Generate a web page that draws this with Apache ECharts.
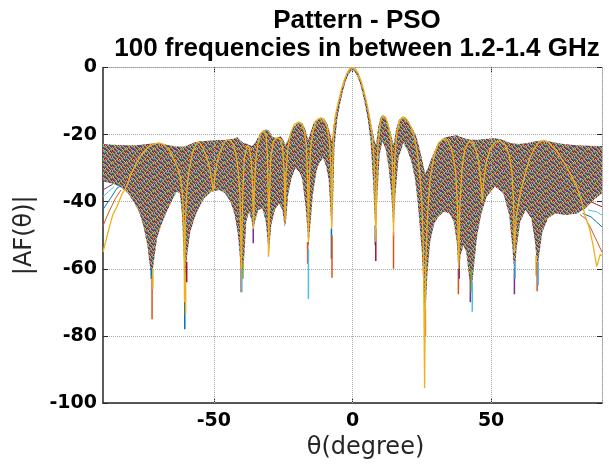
<!DOCTYPE html>
<html><head><meta charset="utf-8">
<script src="https://cdn.jsdelivr.net/npm/echarts@6/dist/echarts.min.js"></script>
<style>html,body{margin:0;padding:0;background:#fff}#c{width:609px;height:465px}</style>
</head><body><div id="c"></div>
<script>
// ---- data ----
const titleLines = ['Pattern - PSO', '100 frequencies in between 1.2-1.4 GHz'];
const xTicks = [-50, 0, 50];
const yTicks = [0, -20, -40, -60, -80, -100];
const matlabColors = ['#0072BD','#D95319','#EDB120','#7E2F8E','#77AC30','#4DBEEE','#A2142F'];

// upper envelope of the 100-curve band
const upperTheta = [-90,-86,-82,-78,-74,-70,-67,-64,-61,-59,-57,-55,-52,-49,-46,-43,-41.5,-40.3,-39.3,-37.8,-36.3,-35.2,-33.5,-32,-31,-30,-29,-27.5,-26,-25,-24.2,-23,-21.5,-20,-19,-18,-17,-16,-15,-14,-12.5,-11,-10,-9,-8,-7.4,-6.8,-6,-5,-4,-3,-2,-1,0,1,2,3,4,5,6,7,8,8.5,9.2,10,10.8,11.8,12.8,13.8,14.8,15.7,16.8,18,19,20.2,21.5,22.8,24,25,26.2,27.4,28.6,30.4,32.8,35.2,37.6,40,42.4,45,48,51,54,57,60,63,66,69,72,76,80,85,90];
const upperDb = [-22.8,-23,-23.2,-23.2,-22.8,-22.4,-23,-23.5,-23.6,-23,-22.3,-22,-21.8,-21.6,-21.6,-21.2,-20.8,-21.8,-22.5,-22.8,-23.5,-22.5,-20,-18.8,-18.4,-19,-20.5,-21,-20.5,-21.5,-23,-21,-18,-16.6,-16.2,-16.6,-18.5,-21.5,-19,-16.5,-15.3,-15,-15.5,-17,-20,-22,-17,-13.5,-9.8,-6.5,-3.8,-1.7,-0.4,0,-0.4,-1.7,-3.8,-6.5,-9.8,-13.8,-18,-22,-23,-18,-15,-14.2,-14.6,-16.5,-19.5,-23,-18.5,-15.5,-14.6,-14.8,-16,-18,-20,-23.5,-27,-31.5,-29.5,-26.8,-23.4,-21,-20.5,-20.2,-21,-21.5,-21.5,-21.3,-21,-21.5,-22.5,-22.8,-22.5,-22,-21.7,-22.2,-22.8,-23.1,-23.3,-23.4];

// lower envelope of the dense part of the band
const lowerTheta = [-90,-87,-84,-81,-79,-77,-75.5,-74,-73,-72.3,-71.5,-70.5,-69,-67,-65,-63.5,-62.3,-61.5,-60.8,-60.3,-59.5,-58.5,-57,-55.5,-53.5,-51,-48,-46,-44,-42.5,-41.3,-40.5,-39.8,-39,-38.3,-37.3,-36.3,-35.8,-35.2,-34,-32.5,-31.3,-30.5,-30,-29.3,-28,-26.5,-25.3,-24.5,-24,-23.2,-22,-20.6,-19.3,-18.2,-17,-16.3,-15.9,-15.3,-14.3,-13,-12,-10.6,-9.5,-8.6,-8,-7.5,-7,-6.5,-5.5,-4.5,-3.5,-2.5,-1.5,-0.5,0,0.5,1.5,2.5,3.5,4.5,5.5,6.5,7.5,8,8.4,9,9.8,10.8,12,13,14,14.8,15.5,16.6,18.4,20,21.2,22.5,23.5,25,26.2,27,28,29.5,31,33,35,36.5,37.6,38.3,39,40,41,42,43,44,45,46.5,48.4,51.4,54.4,56.5,57.7,58.4,59.2,60.5,62.5,64.5,65.8,66.7,67.5,68.5,70.5,73,77,81,84,87,90];
const lowerDb = [-34,-34.5,-35.5,-37.5,-40,-43,-47,-53,-60,-62,-57,-51,-47,-43,-39.5,-37,-37.5,-44,-58,-62,-55,-49,-45,-42,-39,-37,-36.5,-37.5,-40,-44,-50,-58,-62,-56,-46,-43,-46,-49,-46,-42.5,-42,-46,-53,-54,-47,-42.5,-40.5,-42.5,-47.5,-46,-38,-33,-30,-31,-33,-41,-48,-54,-48,-38,-31,-28.5,-27,-29.5,-33.5,-42,-50,-40,-24,-15.5,-11,-7.2,-4.2,-2.2,-0.9,-0.8,-0.9,-2.2,-4.2,-7.2,-11,-15.5,-22,-35,-45,-49,-38,-26,-22,-24.5,-29.5,-38,-49,-38,-27,-22.5,-25,-28,-33,-40,-55,-76,-62,-52,-46.5,-44.5,-43,-43.5,-46,-52,-62,-56,-53,-55,-62,-66,-58,-50,-43.5,-38.5,-35.5,-37.5,-44,-54,-62,-54,-46,-42.5,-45,-52,-60,-55,-49,-45,-43.5,-44,-43.5,-42,-39.5,-37.5];

// the yellow (last drawn) curve that outlines the band
const yellowTheta = [-90,-88,-86.5,-85,-83,-81.5,-80,-78,-76,-74,-72,-70,-68,-66,-64.5,-63,-62,-61.3,-60.8,-60.6,-60.3,-59.7,-59,-58,-57,-56,-55,-53.8,-52.5,-51.5,-50.6,-50.2,-49.7,-48.8,-47.5,-46,-45,-44,-43,-42,-41.2,-40.6,-40.1,-39.6,-39,-38,-37.2,-36.5,-36,-35.7,-35.4,-34.8,-34,-33,-32,-31.2,-30.7,-30.4,-30.2,-30,-29.5,-28.5,-27.2,-26,-25.2,-24.6,-24.3,-24,-23.3,-22.3,-21,-19.5,-18.3,-17.3,-16.6,-16.2,-15.9,-15.6,-15.1,-14.2,-13,-11.5,-10.2,-9.2,-8.3,-7.8,-7.5,-7.2,-6.8,-6.2,-5.2,-4,-3,-2,-1,0,1,2,3,4,5.2,6.2,7,7.7,8.1,8.4,8.7,9.2,10,10.9,12,13,13.8,14.4,14.8,15.2,15.9,17,18.3,19.6,21,22.2,23.3,24.2,25,25.6,26,26.4,27,28,29.5,31,32.8,34.5,36,37.2,37.9,38.3,38.7,39.5,40.5,42,43.3,44.5,45.5,46.3,46.8,47.3,48.3,49.8,51.5,53.2,55,56.5,57.5,58.1,58.4,59,60.4,62.2,64,65.5,67,68.9,70.5,72,73.7,75.5,77.3,79,80.9,82.5,84,85.5,86.8,87.6,88.1,88.6,89.3,90];
const yellowDb = [-55,-48.5,-44,-41.5,-37.5,-35.5,-32,-28.5,-25.8,-24,-22.9,-22.5,-23,-24.8,-27.3,-30,-33,-38,-48,-70,-46,-36,-31,-26.5,-23.8,-22.3,-22.5,-24.3,-27,-30,-34.5,-37,-33,-28,-24.5,-22,-21.5,-21.8,-23,-26,-31,-38,-60,-38,-27,-23.3,-24,-28,-36,-48,-36,-27,-22,-19.5,-18.8,-20,-26,-40,-55,-40,-27,-22,-21,-21.2,-24,-32,-46,-32,-24,-19.5,-17,-16.3,-16.8,-19,-24,-34,-52,-34,-24,-18.5,-15.8,-15,-15.6,-17.5,-22,-30,-48,-30,-19,-14.5,-10.5,-6.5,-3.8,-1.7,-0.4,0,-0.4,-1.7,-3.8,-6.5,-10.8,-15,-19.5,-26,-36,-52,-36,-23,-16.5,-14.3,-15,-17.5,-21,-28,-50,-28,-20,-15.8,-14.8,-15.5,-17.5,-20.5,-25,-31,-40,-55,-95.6,-60,-45,-33,-26,-22.5,-21.2,-22,-25,-31,-42,-60,-42,-30,-24.5,-22,-22.3,-24.5,-28,-34,-40,-34,-28,-24,-22.2,-21.9,-23,-26,-31,-40,-55,-45,-38,-32,-27,-24.3,-22.5,-21.7,-22.2,-23.5,-25,-27.3,-29.7,-32.5,-35.5,-39.5,-44.5,-48,-53,-57,-59.3,-58,-55.8,-56];

// loose curves fanning out at the two edges
const fanLeftRedTheta = [-90,-88,-85.5,-83.5];      const fanLeftRedDb = [-47.2,-43.3,-39,-36.5];
const fanLeftBlueTheta = [-90,-87.3,-85,-84];       const fanLeftBlueDb = [-42.3,-39,-36,-35.5];
const fanLeftCyanTheta = [-90,-88,-86];             const fanLeftCyanDb = [-38.5,-37,-35.5];
const fanLeftPurpleTheta = [-90,-88,-86.5];         const fanLeftPurpleDb = [-36.5,-35.5,-34.8];
const fanRightRedTheta = [82,84,86,88,90];          const fanRightRedDb = [-43.8,-45,-48,-51.5,-55];
const fanRightBlueTheta = [83,86,88,90];            const fanRightBlueDb = [-43.5,-44.5,-46,-47.5];
const fanRightCyanTheta = [85,88,90];               const fanRightCyanDb = [-42.5,-43,-44];
const fanRightDarkTheta = [86,88,90];               const fanRightDarkDb = [-40,-40.8,-41.5];

// deep null spikes below the dense band: theta, from dB, to dB, colour index
const spikeTheta = [-72.6,-72.3,-72.0,-60.5,-60.2,-59.8,-40.2,-39.9,-39.5,-35.8,-30.3,-16.2,-15.9,-7.6,-7.4,8.2,8.4,14.8,26.3,38.2,38.5,42.5,42.8,43.2,58.4,58.7,66.2,66.6,67.0];
const spikeFrom  = [-60,-62,-60,-60,-62,-58,-58,-60,-58,-48,-52,-52,-54,-48,-50,-47,-48,-49,-72,-60,-58,-62,-60,-64,-60,-58,-56,-58,-58];
const spikeTo    = [-63,-75,-66,-78,-73.5,-64,-67,-67,-63,-52.4,-56.4,-58.5,-69,-57,-62.7,-53,-57.7,-60,-80,-67.6,-63,-70,-67,-72.8,-67.6,-63,-62,-66.7,-65];
const spikeColor = [0,1,2,0,2,6,1,5,4,3,2,1,5,0,1,0,6,1,1,1,3,3,4,5,3,5,2,1,5];

// ---- chart ----
// fill texture for the dense band (style only): short multicoloured strokes
function makePattern() {
  const w = 14, h = 14;
  const c = document.createElement('canvas');
  c.width = w; c.height = h;
  const ctx = c.getContext('2d');
  for (let y = 0; y < h; y++) for (let x = 0; x < w; x++) {
    const k = (x + 2 * Math.floor(y / 2) + (y % 2) * 3 + Math.floor(x / 7) * 2) % 7;
    ctx.fillStyle = matlabColors[k];
    ctx.fillRect(x, y, 1, 1);
  }
  return c;
}
const pattern = makePattern();
const zip = (a, b) => a.map((v, i) => [v, b[i]]);

const chart = echarts.init(document.getElementById('c'), null, {renderer: 'canvas'});
const tickFont = {fontFamily: 'DejaVu Sans', fontWeight: 'bold', fontSize: 19, color: '#000'};
const gridLine = {color: '#a8a8a8', type: [1, 1], width: 1};

function lineSeries(t, d, colorIdx, w, z) {
  return {type: 'line', data: zip(t, d), showSymbol: false, silent: true, z: z || 4,
    lineStyle: {color: matlabColors[colorIdx], width: w || 1}, clip: true, animation: false};
}

chart.setOption({
  animation: false,
  title: {
    text: titleLines.join('\n'), left: 352, top: 2, textAlign: 'center',
    textStyle: {fontFamily: 'Liberation Sans', fontWeight: 'bold', fontSize: 26, lineHeight: 28, color: '#000'}
  },
  grid: {left: 103, right: 7, top: 67.5, bottom: 53, show: false},
  xAxis: [{
    type: 'value', min: -90, max: 90, interval: 10, position: 'bottom',
    axisLine: {show: true, onZero: false, lineStyle: {color: '#262626', width: 1.5}},
    axisTick: {show: true, inside: true, length: 5, customValues: xTicks, lineStyle: {color: '#262626'}},
    axisLabel: {customValues: xTicks, margin: 9, ...tickFont},
    splitLine: {show: false},
    name: 'θ(degree)', nameLocation: 'middle', nameGap: 33,
    nameTextStyle: {fontFamily: 'DejaVu Sans', fontSize: 24, color: '#262626', padding: [0, 0, 0, 26]}
  }, {
    type: 'value', min: -90, max: 90, interval: 10, position: 'top',
    axisLine: {show: true, onZero: false, lineStyle: {color: '#9a9a9a', width: 1, type: [1, 1]}},
    axisTick: {show: true, inside: true, length: 5, customValues: xTicks, lineStyle: {color: '#262626'}},
    axisLabel: {show: false}, splitLine: {show: false}
  }],
  yAxis: [{
    type: 'value', min: -100, max: 0, interval: 20, position: 'left',
    axisLine: {show: true, onZero: false, lineStyle: {color: '#262626', width: 1.5}},
    axisTick: {show: true, inside: true, length: 5, lineStyle: {color: '#262626'}},
    axisLabel: {margin: 6, ...tickFont},
    splitLine: {show: true, lineStyle: gridLine},
    name: '|AF(θ)|', nameLocation: 'middle', nameGap: 66, nameRotate: 90,
    nameTextStyle: {fontFamily: 'DejaVu Sans', fontSize: 24, color: '#262626'}
  }, {
    type: 'value', min: -100, max: 0, interval: 20, position: 'right',
    axisLine: {show: true, onZero: false, lineStyle: {color: '#9a9a9a', width: 1, type: [1, 1]}},
    axisTick: {show: true, inside: true, length: 5, lineStyle: {color: '#262626'}},
    axisLabel: {show: false}, splitLine: {show: false}
  }],
  series: [
    {type: 'line', data: [], z: 1, silent: true,
     markLine: {silent: true, symbol: 'none', label: {show: false}, lineStyle: gridLine,
       data: xTicks.map(v => ({xAxis: v}))}},
    {type: 'custom', z: 2, silent: true, clip: true, data: [0],
     renderItem: function (params, api) {
       const pts = [];
       for (let i = 0; i < upperTheta.length; i++) pts.push(api.coord([upperTheta[i], upperDb[i]]));
       for (let i = lowerTheta.length - 1; i >= 0; i--) pts.push(api.coord([lowerTheta[i], lowerDb[i]]));
       return {type: 'polygon', shape: {points: pts},
         style: {fill: {image: pattern, repeat: 'repeat'}, stroke: null}};
     }},
    {type: 'custom', z: 3, silent: true, clip: true,
     data: spikeTheta.map((t, i) => [t, spikeFrom[i], spikeTo[i], spikeColor[i]]),
     renderItem: function (params, api) {
       const a = api.coord([api.value(0), api.value(1)]);
       const b = api.coord([api.value(0), api.value(2)]);
       return {type: 'line', shape: {x1: a[0], y1: a[1], x2: b[0], y2: b[1]},
         style: {stroke: matlabColors[api.value(3)], lineWidth: 1.5}};
     }},
    lineSeries(fanLeftRedTheta, fanLeftRedDb, 1),
    lineSeries(fanLeftBlueTheta, fanLeftBlueDb, 0),
    lineSeries(fanLeftCyanTheta, fanLeftCyanDb, 5),
    lineSeries(fanLeftPurpleTheta, fanLeftPurpleDb, 3),
    lineSeries(fanRightRedTheta, fanRightRedDb, 1),
    lineSeries(fanRightBlueTheta, fanRightBlueDb, 0),
    lineSeries(fanRightCyanTheta, fanRightCyanDb, 5),
    lineSeries(fanRightDarkTheta, fanRightDarkDb, 6),
    lineSeries(yellowTheta, yellowDb, 2, 1.3, 5)
  ]
});
</script></body></html>
